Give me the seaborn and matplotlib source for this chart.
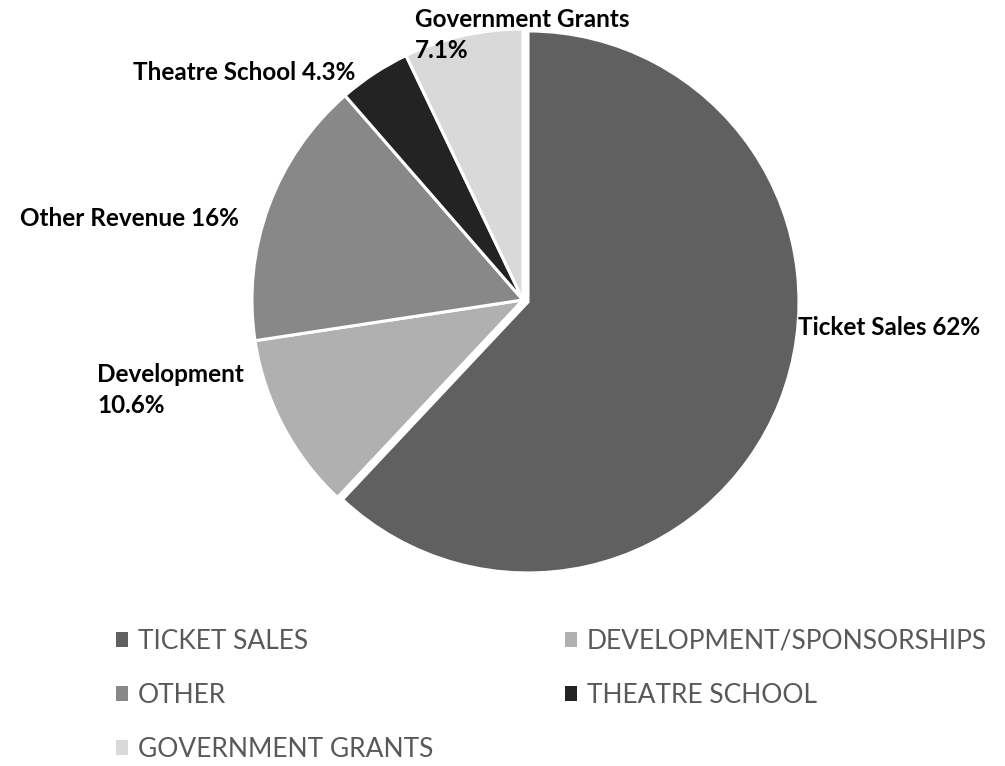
import seaborn as sns
import matplotlib.pyplot as plt
from matplotlib.patches import Patch

sns.set_theme(style="white")
plt.rcParams['font.family'] = ['Lato', 'DejaVu Sans']

# revenue shares, clockwise from top
categories = ["TICKET SALES", "DEVELOPMENT/SPONSORSHIPS", "OTHER", "THEATRE SCHOOL", "GOVERNMENT GRANTS"]
shares = [62, 10.6, 16, 4.3, 7.1]
slice_labels = ["Ticket Sales 62%", "Development\n10.6%", "Other Revenue 16%",
                "Theatre School 4.3%", "Government Grants\n7.1%"]
colors = ["#606060", "#b0b0b0", "#888888", "#232323", "#d9d9d9"]

fig = plt.figure(figsize=(10.05, 7.66), dpi=100)
ax = fig.add_axes([0.2507, 0.2546, 0.5393, 0.7076])
wedges, _ = ax.pie(shares, colors=colors, startangle=90, counterclock=False,
                   explode=[0.02, 0, 0, 0, 0],
                   wedgeprops=dict(edgecolor="white", linewidth=2.2))
ax.set_xlim(-1, 1)
ax.set_ylim(-1, 1)
ax.set_aspect("equal")

# label placement (figure pixel coords from top-left)
label_pos = [(798, 327), (97, 390), (20, 218), (133, 72), (415, 35)]
for txt, (px, py) in zip(slice_labels, label_pos):
    fig.text(px / 1005, 1 - py / 766, txt, ha="left", va="center", fontsize=17.5,
             fontweight="bold", color="black", linespacing=1.38)

order = [0, 2, 4, 1, 3]
handles = [Patch(facecolor=colors[i], edgecolor="none", label=categories[i]) for i in order]
leg = fig.legend(handles=handles, ncol=2, loc="upper left", bbox_to_anchor=(0.1154, 0.179),
                 frameon=False, fontsize=19, handlelength=0.45, handleheight=0.45,
                 handletextpad=0.38, columnspacing=5.0, labelspacing=1.1,
                 borderaxespad=0, borderpad=0)
for t in leg.get_texts():
    t.set_color("#595959")

fig.savefig("out.png", dpi=100)
